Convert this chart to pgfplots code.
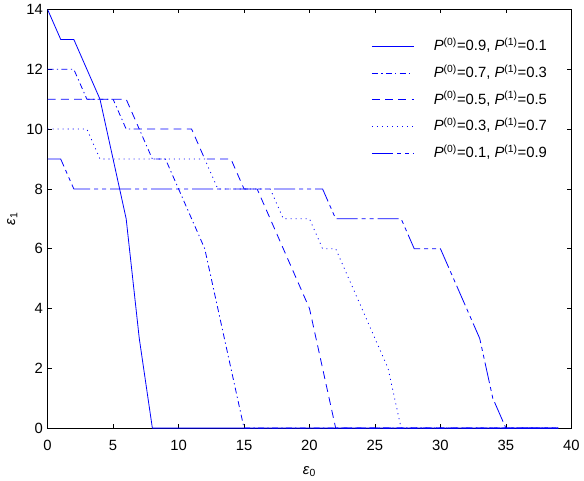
\documentclass[border=0pt]{standalone}
\usepackage{fontspec}
\setmainfont{Liberation Sans}
\usepackage{pgfplots}
\pgfplotsset{compat=1.18}

\definecolor{mblue}{RGB}{0,0,255}

\begin{document}
\begin{tikzpicture}
\begin{axis}[
    at={(0,0)}, anchor=south west,
    scale only axis,
    width=396pt, height=316.5pt,
    xmin=0, xmax=40, ymin=0, ymax=14,
    xtick={0,5,...,40}, ytick={0,2,...,14},
    tick align=inside,
    major tick length=3pt,
    axis line style={line width=0.8pt},
    every tick/.style={black, line width=0.5pt},
    /pgf/number format/assume math mode=true,
    tick label style={font=\fontsize{11.2}{13}\selectfont},
    xticklabel style={yshift=-5.5pt},
    label style={font=\fontsize{11.2}{13}\selectfont},
    xlabel={\textit{ε}\textsubscript{0}},
    xlabel style={yshift=-5pt},
    ylabel={\textit{ε}\textsubscript{1}},
    legend cell align=left,
    legend style={draw=none, fill=none, inner sep=0pt,
        at={(0.618,0.93)}, anchor=north west,
        font=\fontsize{11.2}{13}\selectfont,
        row sep=8.6pt,
        /tikz/every odd column/.append style={column sep=15pt},
        nodes={text height=9pt, text depth=2.5pt, inner sep=0pt}},
    legend image code/.code={\draw[#1] (0pt,0pt) -- (31.5pt,0pt);},
]
% P0=0.9
\addplot[mblue, line width=0.6pt, solid] coordinates {
    (0,14) (1,13) (2,13) (4,11) (5,9) (6,7) (7,3) (8,0) (39,0)
};
% P0=0.7
\addplot[mblue, line width=0.6pt, dash pattern=on 4.5pt off 2.5pt on 1pt off 2.5pt] coordinates {
    (0,12) (2,12) (3,11) (5,11) (6,10) (7,10) (8,9) (9,9) (10,8) (11,7) (12,6) (15,0) (39,0)
};
% P0=0.5
\addplot[mblue, line width=0.6pt, dash pattern=on 6pt off 4pt] coordinates {
    (0,11) (6,11) (7,10) (11,10) (12,9) (14,9) (15,8) (16,8) (17,7) (18,6) (19,5) (20,4) (21,2) (22,0) (39,0)
};
% P0=0.3
\addplot[mblue, line width=0.6pt, dash pattern=on 0.8pt off 3pt] coordinates {
    (0,10) (3,10) (4,9) (12,9) (13,8) (17,8) (18,7) (20,7) (21,6) (22,6) (23,5) (24,4) (25,3) (26,2) (27,0) (39,0)
};
% P0=0.1
\addplot[mblue, line width=0.6pt, dash pattern=on 16pt off 3pt on 3pt off 3pt on 3pt off 3pt] coordinates {
    (0,9) (1,9) (2,8) (21,8) (22,7) (27,7) (28,6) (30,6) (31,5) (32,4) (33,3) (34,1) (35,0) (39,0)
};
\legend{
    \textit{P}\textsuperscript{(0)}=0.9{,} \textit{P}\textsuperscript{(1)}=0.1,
    \textit{P}\textsuperscript{(0)}=0.7{,} \textit{P}\textsuperscript{(1)}=0.3,
    \textit{P}\textsuperscript{(0)}=0.5{,} \textit{P}\textsuperscript{(1)}=0.5,
    \textit{P}\textsuperscript{(0)}=0.3{,} \textit{P}\textsuperscript{(1)}=0.7,
    \textit{P}\textsuperscript{(0)}=0.1{,} \textit{P}\textsuperscript{(1)}=0.9
}
\end{axis}
\useasboundingbox (-36pt,-35.25pt) rectangle (402pt,322.5pt);
\end{tikzpicture}
\end{document}
